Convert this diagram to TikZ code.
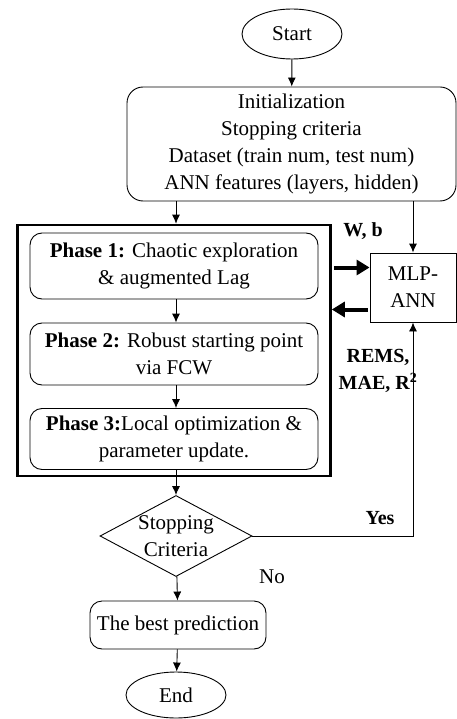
\documentclass[tikz,border=0pt]{standalone}
\usepackage{fontspec}
\setmainfont{Liberation Serif}
\usetikzlibrary{shapes.geometric,arrows.meta}

\tikzset{
	terminal/.style={draw, ellipse, line width=0.9pt, minimum width=100pt, minimum height=50pt, inner sep=0pt},
	process/.style={draw, rectangle, rounded corners=12pt, line width=0.9pt, align=center, inner sep=0pt},
	decision/.style={draw, diamond, line width=0.9pt, minimum width=152pt, minimum height=81pt, inner sep=0pt},
	arr/.style={line width=0.9pt, -{Latex[length=9pt,width=8pt]}},
	bigarr/.style={line width=4pt, -{Triangle[length=13pt,width=15pt]}},
	lbl/.style={font=\fontsize{20}{27}\selectfont\bfseries, align=center, inner sep=0pt}
}

\begin{document}
\begin{tikzpicture}[x=1pt, y=-1pt, font=\fontsize{21}{27}\selectfont]
				\useasboundingbox (0,0) rectangle (457,719);

				% main column
				\node[terminal] (start) at (292,34) {Start};
				\node[process, rounded corners=16pt, minimum width=329pt, minimum height=114pt] (init) at (291.5,144) {Initialization\\Stopping criteria\\Dataset (train num, test num)\\ANN features (layers, hidden)};

				\node[draw, rectangle, line width=2.6pt, minimum width=313pt, minimum height=251pt] (outer) at (174,350.5) {};
				\node[process, minimum width=288pt, minimum height=66pt] (ph1) at (174,266) {\textbf{Phase 1:} Chaotic exploration\\\&~augmented Lag};
				\node[process, minimum width=288pt, minimum height=62pt] (ph2) at (174,354) {\textbf{Phase 2:} Robust starting point\\via FCW};
				\node[process, minimum width=288pt, minimum height=61pt] (ph3) at (174,439) {\textbf{Phase 3:}Local optimization \&\\parameter update.};

				\node[decision, label={[align=center, inner sep=0pt]center:Stopping\\Criteria}] (crit) at (176,536) {};
				\node[process, minimum width=176pt, minimum height=48pt] (best) at (178,625) {The best prediction};
				\node[terminal, minimum height=46pt] (end) at (176,695) {End};

				% model side
				\node[draw, rectangle, line width=0.9pt, minimum width=86pt, minimum height=69pt, align=center, inner sep=0pt] (mlp) at (413,287.5) {MLP-\\ANN};

				\node[lbl] (wb) at (363,231) {W, b};
				\node[lbl] (rems) at (378,371) {REMS,\\MAE, R\textsuperscript{2}};
				\node[lbl] (yes) at (380,518) {Yes};
				\node[inner sep=0pt] (no) at (272,577) {No};

				\draw[arr] (start) -- (init);
				\draw[arr] (init.south -| crit) -- (outer.north -| crit);
				\draw[arr] (init.south -| mlp) -- (mlp.north);
				\draw[arr] (ph1.south -| crit) -- (ph2.north -| crit);
				\draw[arr] (ph2.south -| crit) -- (ph3.north -| crit);
				\draw[arr] (ph3.south -| crit) -- (crit.north);
				\draw[arr] (crit) -- (best);
				\draw[arr] (best) -- (end);
				\draw[arr] (crit.east) -| (mlp.south);

				\coordinate (wIn) at ([yshift=20pt]mlp.west);
				\coordinate (wOut) at ([yshift=-22pt]mlp.west);
				\draw[bigarr, shorten <=2pt] (outer.east |- wIn) -- (wIn);
				\draw[bigarr, shorten <=2pt] (wOut) -- (outer.east |- wOut);
			\end{tikzpicture}
\end{document}
